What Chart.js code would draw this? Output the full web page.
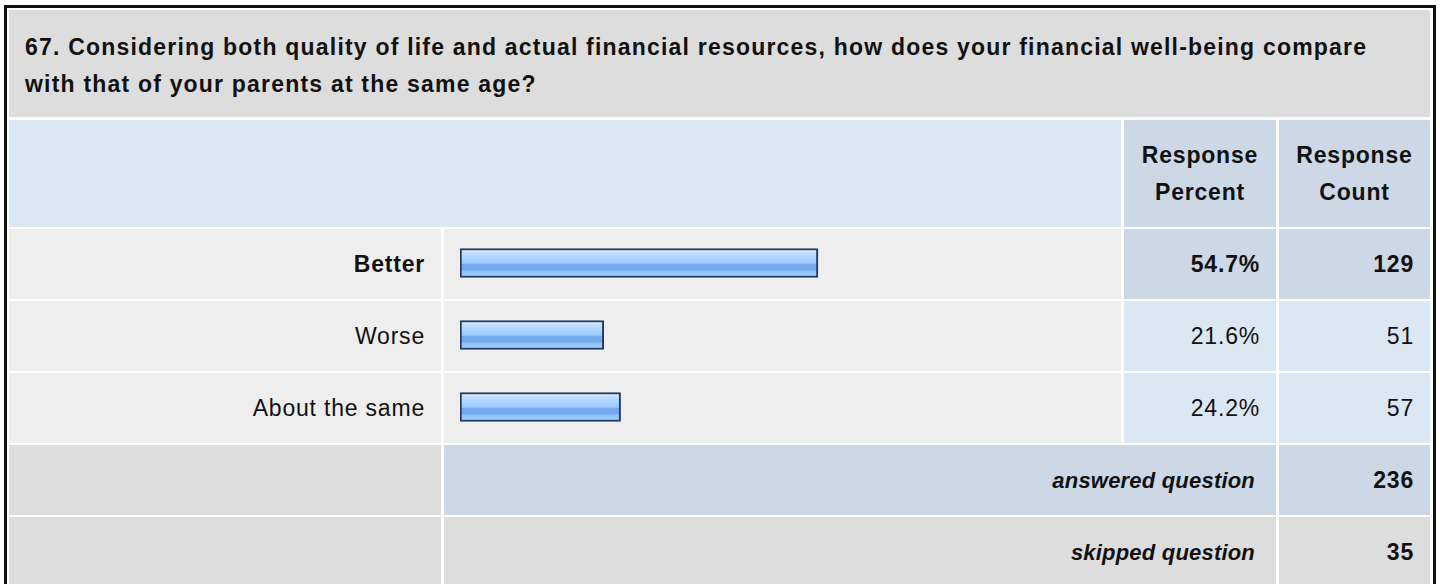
<!DOCTYPE html>
<html>
<head>
<meta charset="utf-8">
<script src="https://cdn.jsdelivr.net/npm/chart.js@4.4.1/dist/chart.umd.min.js"></script>
<style>
  html, body { margin: 0; padding: 0; background: #fff; width: 1440px; height: 584px; overflow: hidden; }
  body { font-family: "Liberation Sans", Arial, sans-serif; font-size: 23px; color: #111; position: relative; letter-spacing: 0.8px; }
  .frame { position: absolute; left: 4px; top: 5px; width: 1426px; height: 600px; border: 3px solid #111; background: #fff; }
  .c { position: absolute; box-sizing: border-box; display: flex; align-items: center; line-height: 37px; }
  .r { justify-content: flex-end; padding-right: 16px; text-align: right; }
  .m { justify-content: center; text-align: center; }
  .b { font-weight: bold; }
  .bi { font-weight: bold; font-style: italic; font-size: 22px; letter-spacing: 0.2px; padding-right: 21px; }
  .t { align-items: flex-start; padding: 19px 10px 0 16px; letter-spacing: 1.2px; }
  #barBox { position: absolute; left: 460px; top: 227px; width: 651px; height: 216px; }
</style>
</head>
<body>
<div class="frame"></div>
<div id="table"></div>
<div id="barBox"><canvas id="bars"></canvas></div>
<script>
// 问卷数据
const title = '67. Considering both quality of life and actual financial resources, how does your financial well-being compare with that of your parents at the same age?';
const categories = ['Better', 'Worse', 'About the same'];
const percents = [54.7, 21.6, 24.2];
const counts = [129, 51, 57];
const answered = 236;
const skipped = 35;

const GREY = '#dddddd', LIGHT = '#eeeeee', BLUE = '#dce7f4', BLUE2 = '#ccd8e6';
const tbl = document.getElementById('table');
function cell(x, y, w, h, bg, cls, text) {
  const d = document.createElement('div');
  d.className = 'c ' + (cls || '');
  d.style.cssText = `left:${x}px;top:${y}px;width:${w}px;height:${h}px;background:${bg};`;
  d.innerHTML = text === undefined ? '' : text;
  tbl.appendChild(d);
  return d;
}

// 标题
cell(9, 10, 1421, 107, GREY, 'b t').textContent = title;

// 表头
cell(9, 120, 1112, 107, BLUE);
cell(1124, 120, 152, 107, BLUE2, 'b m', 'Response<br>Percent');
cell(1279, 120, 151, 107, BLUE2, 'b m', 'Response<br>Count');

// 数据行
const rowTop = [229, 301, 373];
categories.forEach((name, i) => {
  const y = rowTop[i], h = 70;
  const first = i === 0;
  const bg = first ? BLUE2 : BLUE;
  const cls = 'r' + (first ? ' b' : '');
  cell(9, y, 432, h, LIGHT, cls, name);
  cell(444, y, 677, h, LIGHT);
  cell(1124, y, 152, h, bg, cls, percents[i].toFixed(1) + '%');
  cell(1279, y, 151, h, bg, cls, counts[i]);
});

// 汇总行
cell(9, 445, 432, 70, GREY);
cell(444, 445, 832, 70, BLUE2, 'r bi', 'answered question');
cell(1279, 445, 151, 70, BLUE2, 'r b', answered);
cell(9, 517, 432, 70, GREY);
cell(444, 517, 832, 70, GREY, 'r bi', 'skipped question');
cell(1279, 517, 151, 70, GREY, 'r b', skipped);

// 条形渐变
function barFill(ctx) {
  const chart = ctx.chart;
  const ys = chart.scales.y;
  if (!ys || !chart.chartArea) return '#99ccff';
  const c = ys.getPixelForValue(ctx.dataIndex);
  const g = chart.ctx.createLinearGradient(0, c - 14, 0, c + 14);
  g.addColorStop(0, '#d6ebff');
  g.addColorStop(0.22, '#b4d9ff');
  g.addColorStop(0.5, '#9ccbfd');
  g.addColorStop(0.56, '#73a9f0');
  g.addColorStop(0.74, '#76aaf0');
  g.addColorStop(0.8, '#92c2fc');
  g.addColorStop(1, '#a6d0ff');
  return g;
}

new Chart(document.getElementById('bars'), {
  type: 'bar',
  data: {
    labels: categories,
    datasets: [{
      data: percents,
      base: -0.62,
      backgroundColor: barFill,
      borderColor: '#1f3a60',
      borderWidth: 2,
      borderSkipped: false,
      barThickness: 29,
      clip: false
    }]
  },
  options: {
    indexAxis: 'y',
    responsive: true,
    maintainAspectRatio: false,
    animation: false,
    layout: {padding: 0},
    scales: {
      x: {display: false, min: -0.62, max: 100},
      y: {display: false}
    },
    plugins: {
      legend: {display: false},
      tooltip: {enabled: false}
    }
  }
});
</script>
</body>
</html>
